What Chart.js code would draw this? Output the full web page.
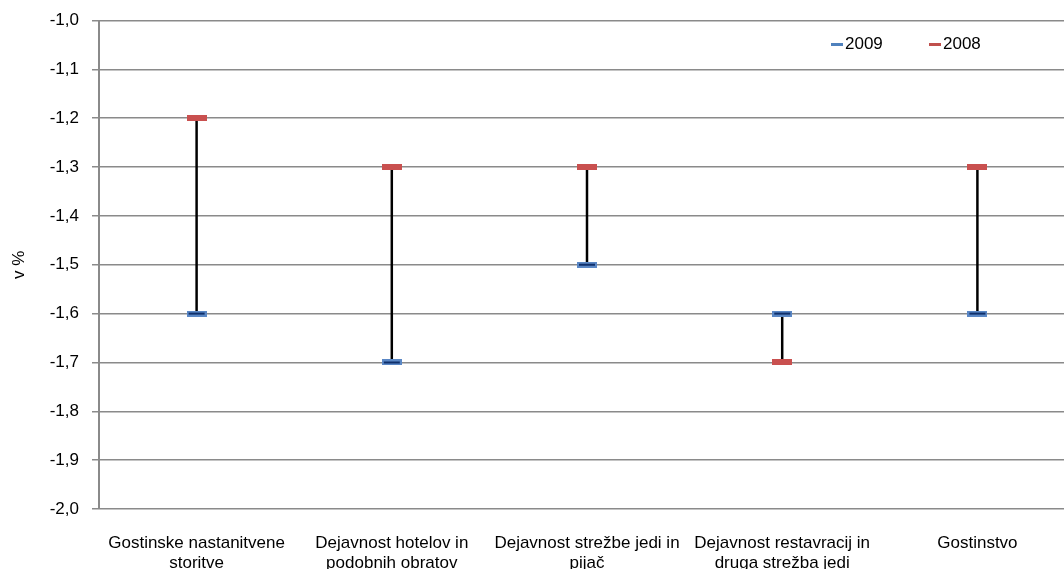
<!DOCTYPE html>
<html>
<head>
<meta charset="utf-8">
<script src="https://cdn.jsdelivr.net/npm/chart.js@4"></script>
<style>
html, body { margin: 0; padding: 0; overflow: hidden; background: #fff; }
#wrap { width: 1080px; height: 569px; }
</style>
</head>
<body>
<div id="wrap"><canvas id="myChart" width="1080" height="569"></canvas></div>
<script>
var categories = [
    ["Gostinske nastanitvene", "storitve"],
    ["Dejavnost hotelov in", "podobnih obratov"],
    ["Dejavnost strežbe jedi in", "pijač"],
    ["Dejavnost restavracij in", "druga strežba jedi"],
    "Gostinstvo"
];
var values2009 = [-1.6, -1.7, -1.5, -1.6, -1.6];
var values2008 = [-1.2, -1.3, -1.3, -1.7, -1.3];
var yMin = -2.0;
var yMax = -1.0;

var fontFamily = '"Liberation Sans", Arial, sans-serif';

// small pictures used as the dash markers
function makeMarker(outer, inner) {
    var c = document.createElement('canvas');
    c.width = 20;
    c.height = 6;
    var g = c.getContext('2d');
    g.fillStyle = outer;
    g.fillRect(0, 0, 20, 6);
    if (inner) {
        g.fillStyle = inner;
        g.fillRect(2, 2, 16, 2);
    }
    return c;
}
var blueMark = makeMarker('#5a87c5', '#0f2f6b');
var redMark = makeMarker('#c9504f', null);

// black high-low line between the two years
var hiLoLines = {
    id: 'hiLoLines',
    beforeDatasetsDraw: function(chart) {
        var ctx = chart.ctx;
        var x = chart.scales.x, y = chart.scales.y;
        ctx.save();
        ctx.strokeStyle = '#000';
        ctx.lineWidth = 2.5;
        for (var i = 0; i < values2009.length; i++) {
            var px = x.getPixelForValue(i);
            ctx.beginPath();
            ctx.moveTo(px, y.getPixelForValue(values2009[i]));
            ctx.lineTo(px, y.getPixelForValue(values2008[i]));
            ctx.stroke();
        }
        ctx.restore();
    }
};

// legend drawn inside the plot, top right
var innerLegend = {
    id: 'innerLegend',
    afterDraw: function(chart) {
        var ctx = chart.ctx;
        var a = chart.chartArea;
        var x = a.left + (a.right - a.left) * 0.75;
        var yy = a.top + 24;
        ctx.save();
        ctx.font = '17px ' + fontFamily;
        ctx.textBaseline = 'middle';
        chart.data.datasets.forEach(function(ds) {
            ctx.fillStyle = ds.borderColor;
            ctx.fillRect(x, yy - 1.5, 12, 3);
            ctx.fillStyle = '#000';
            ctx.fillText(ds.label, x + 14, yy);
            x += 98;
        });
        ctx.restore();
    }
};

var gridColor = '#8a8a8a';
var ctx = document.getElementById('myChart').getContext('2d');
var myChart = new Chart(ctx, {
    type: 'line',
    data: {
        labels: categories,
        datasets: [{
            label: '2009',
            data: values2009,
            showLine: false,
            pointStyle: blueMark,
            borderColor: '#4f81bd',
            backgroundColor: '#4f81bd'
        }, {
            label: '2008',
            data: values2008,
            showLine: false,
            pointStyle: redMark,
            borderColor: '#c0504d',
            backgroundColor: '#c0504d'
        }]
    },
    options: {
        responsive: false,
        animation: false,
        layout: { padding: { top: 20.5, right: 0, bottom: 0, left: 0 } },
        plugins: {
            legend: { display: false },
            tooltip: { enabled: false }
        },
        scales: {
            x: {
                offset: true,
                grid: { display: false },
                border: { display: false },
                ticks: {
                    color: '#000',
                    padding: 16,
                    maxRotation: 0,
                    autoSkip: false,
                    font: { family: fontFamily, size: 17, lineHeight: 1.2 }
                },
                afterFit: function(scale) { scale.height = 60; }
            },
            y: {
                min: yMin,
                max: yMax,
                ticks: {
                    stepSize: 0.1,
                    color: '#000',
                    padding: 13,
                    font: { family: fontFamily, size: 17 },
                    callback: function(v) { return Number(v).toFixed(1).replace('.', ','); }
                },
                grid: { color: gridColor, lineWidth: 1.5, tickLength: 7 },
                border: { color: gridColor, width: 2 },
                title: {
                    display: true,
                    text: 'v %',
                    color: '#000',
                    padding: { top: 9, bottom: 0 },
                    font: { family: fontFamily, size: 17 }
                },
                afterFit: function(scale) {
                    scale.width = 99;
                    scale.paddingTop = 0;
                    scale.paddingBottom = 0;
                }
            }
        }
    },
    plugins: [hiLoLines, innerLegend]
});
</script>
</body>
</html>
